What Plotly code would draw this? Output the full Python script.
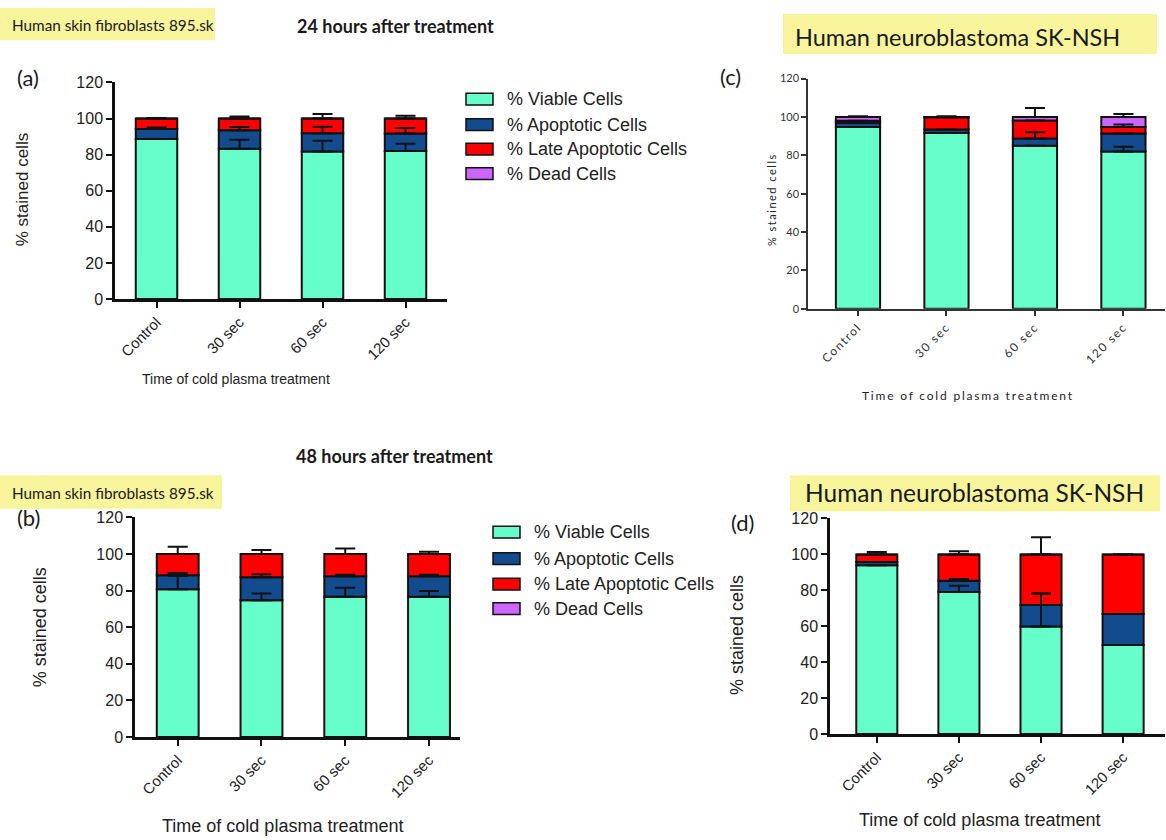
import numpy as np
import plotly.graph_objects as go

W, H = 1166, 840

categories = ["Control", "30 sec", "60 sec", "120 sec"]
series_names = ["% Viable Cells", "% Apoptotic Cells", "% Late Apoptotic Cells", "% Dead Cells"]
series_colors = ["#66FFCC", "#124C8E", "#FF0000", "#CC66FF"]

# (a) Human skin fibroblasts 895.sk, 24 h
fib24_viable = [88.6, 83.2, 81.7, 82.0]
fib24_apoptotic = [5.6, 10.3, 10.1, 9.7]
fib24_late = [5.8, 6.5, 8.2, 8.3]
fib24_dead = [0.0, 0.0, 0.0, 0.0]
fib24_err_viable = [0.0, 5.0, 6.0, 4.0]
fib24_err_apoptotic = [0.8, 1.8, 3.7, 3.1]
fib24_err_late = [0.0, 0.0, 0.0, 0.0]
fib24_err_dead = [0.3, 1.2, 2.5, 1.6]

# (c) Human neuroblastoma SK-NSH, 24 h
neu24_viable = [94.8, 91.6, 85.0, 82.0]
neu24_apoptotic = [2.2, 1.9, 3.8, 9.3]
neu24_late = [1.0, 6.3, 9.3, 3.4]
neu24_dead = [2.0, 0.2, 1.9, 5.3]
neu24_err_viable = [0.0, 0.0, 0.0, 2.5]
neu24_err_apoptotic = [0.0, 0.0, 3.2, 0.0]
neu24_err_late = [0.0, 0.0, 0.0, 1.3]
neu24_err_dead = [0.4, 0.4, 4.6, 1.5]

# (b) Human skin fibroblasts 895.sk, 48 h
fib48_viable = [80.7, 74.8, 76.6, 76.6]
fib48_apoptotic = [7.7, 12.5, 11.3, 11.3]
fib48_late = [11.6, 12.7, 12.1, 12.1]
fib48_dead = [0.0, 0.0, 0.0, 0.0]
fib48_err_viable = [7.5, 3.6, 5.0, 3.2]
fib48_err_apoptotic = [1.2, 1.7, 0.8, 0.8]
fib48_err_late = [0.0, 0.0, 0.0, 0.0]
fib48_err_dead = [4.0, 2.2, 3.0, 1.3]

# (d) Human neuroblastoma SK-NSH, 48 h
neu48_viable = [94.0, 79.1, 59.8, 49.5]
neu48_apoptotic = [1.8, 6.2, 12.0, 17.3]
neu48_late = [4.2, 14.7, 28.2, 33.2]
neu48_dead = [0.0, 0.0, 0.0, 0.0]
neu48_err_viable = [0.0, 3.5, 18.4, 0.0]
neu48_err_apoptotic = [0.0, 1.0, 6.4, 0.0]
neu48_err_late = [0.0, 0.0, 0.0, 0.0]
neu48_err_dead = [1.3, 1.8, 9.5, 0.0]

y_ticks = [0, 20, 40, 60, 80, 100, 120]


def px(x):
    return x / W


def py(y):
    return 1 - y / H


ARIAL = "Liberation Sans, Arial, sans-serif"
CALI = "Lato, Open Sans, sans-serif"

panels = [
    dict(key="a", box=(115, 447, 76, 297), xr=[-0.5, 3.5],
         segs=[fib24_viable, fib24_apoptotic, fib24_late, fib24_dead],
         errs=[fib24_err_viable, fib24_err_apoptotic, fib24_err_late, fib24_err_dead],
         style="prism"),
    dict(key="c", box=(808, 1165, 72, 307), xr=[-0.565, 3.47],
         segs=[neu24_viable, neu24_apoptotic, neu24_late, neu24_dead],
         errs=[neu24_err_viable, neu24_err_apoptotic, neu24_err_late, neu24_err_dead],
         style="light"),
    dict(key="b", box=(135, 460, 520, 744), xr=[-0.51, 3.37],
         segs=[fib48_viable, fib48_apoptotic, fib48_late, fib48_dead],
         errs=[fib48_err_viable, fib48_err_apoptotic, fib48_err_late, fib48_err_dead],
         style="prism"),
    dict(key="d", box=(830, 1165, 521, 741), xr=[-0.57, 3.51],
         segs=[neu48_viable, neu48_apoptotic, neu48_late, neu48_dead],
         errs=[neu48_err_viable, neu48_err_apoptotic, neu48_err_late, neu48_err_dead],
         style="prism"),
]

fig = go.Figure()
xs = np.arange(len(categories))

for n, p in enumerate(panels):
    sfx = "" if n == 0 else str(n + 1)
    xa, ya = "x" + sfx, "y" + sfx
    seg_arr = np.array(p["segs"], dtype=float)
    bases = np.vstack([np.zeros(len(categories)), np.cumsum(seg_arr, axis=0)[:-1]])
    light = p["style"] == "light"
    # stacked segments
    for i in range(len(series_names)):
        fig.add_trace(go.Bar(
            x=xs, y=seg_arr[i], base=bases[i], width=0.5,
            marker=dict(color=series_colors[i], line=dict(color="#111", width=2)),
            name=series_names[i], showlegend=False, xaxis=xa, yaxis=ya,
            hoverinfo="skip"))
    # error bars drawn above every segment
    for i in range(len(series_names)):
        fig.add_trace(go.Bar(
            x=xs, y=seg_arr[i], base=bases[i], width=0.5,
            marker=dict(color="rgba(0,0,0,0)", line=dict(width=0)),
            error_y=dict(type="data", symmetric=False, array=p["errs"][i],
                         arrayminus=[0] * len(categories), color="#111",
                         thickness=2, width=10),
            showlegend=False, xaxis=xa, yaxis=ya, hoverinfo="skip"))

    x0, x1, yt, yb = p["box"]
    if light:
        tickfont = dict(family=CALI, size=11, color="#333")
        ticktext = ['<span style="letter-spacing:1.5px">%s</span>' % c for c in categories]
        line_w, line_c, tlen = 1.5, "#333", 5
        xtickfont = dict(family=CALI, size=12, color="#333")
    else:
        tickfont = dict(family=ARIAL, size=16, color="#222")
        ticktext = categories
        line_w, line_c, tlen = 2.5, "#111", 6
        xtickfont = dict(family=ARIAL, size=15, color="#222")
    fig.update_layout(**{
        "xaxis" + sfx: dict(domain=[px(x0), px(x1)], range=p["xr"], anchor=ya,
                            tickmode="array", tickvals=list(xs), ticktext=ticktext,
                            tickangle=-45, tickfont=xtickfont, showline=True,
                            linecolor=line_c, linewidth=line_w, ticks="outside",
                            ticklen=tlen, tickwidth=2, tickcolor=line_c,
                            showgrid=False, zeroline=False, fixedrange=True),
        "yaxis" + sfx: dict(domain=[py(yb), py(yt)], range=[0, 120], anchor=xa,
                            tickmode="array", tickvals=y_ticks, tickfont=tickfont,
                            showline=True, linecolor=line_c, linewidth=line_w,
                            ticks="outside", ticklen=tlen, tickwidth=2, tickcolor=line_c,
                            showgrid=False, zeroline=False, fixedrange=True),
    })

annotations = []
shapes = []

# highlighted cell-line headers
headers = [
    ("Human skin fibroblasts 895.sk", (0, 215, 0, 33), 10, 17, 15.3),
    ("Human neuroblastoma SK-NSH", (783, 1157, 6, 47), 793, 30, 23.5),
    ("Human skin fibroblasts 895.sk", (0, 222, 477, 511), 10, 495, 15.3),
    ("Human neuroblastoma SK-NSH", (790, 1160, 477, 514), 803, 495, 24.5),
]
for text, (bx0, bx1, by0, by1), tx, ty, fs in headers:
    shapes.append(dict(type="rect", xref="paper", yref="paper", x0=px(bx0), x1=px(bx1),
                       y0=py(by1), y1=py(by0), fillcolor="#F8F49C", line=dict(width=0),
                       layer="below"))
    annotations.append(dict(text=text, x=px(tx), y=py(ty), xref="paper", yref="paper",
                            xanchor="left", yanchor="middle", showarrow=False,
                            font=dict(family=CALI, size=fs, color="#1a1a1a")))

# time-point headings
for text, cx, cy in [("24 hours after treatment", 395, 18), ("48 hours after treatment", 394, 457)]:
    annotations.append(dict(text="<b>%s</b>" % text, x=px(cx), y=py(cy), xref="paper",
                            yref="paper", xanchor="center", yanchor="middle", showarrow=False,
                            font=dict(family=CALI, size=18, color="#1a1a1a")))

# panel letters
for text, cx, cy in [("(a)", 28, 71), ("(c)", 730, 70), ("(b)", 28, 520), ("(d)", 743, 525)]:
    annotations.append(dict(text=text, x=px(cx), y=py(cy), xref="paper", yref="paper",
                            xanchor="center", yanchor="middle", showarrow=False,
                            font=dict(family=CALI, size=22, color="#1a1a1a")))

# axis titles
axis_titles = [
    ("% stained cells", 22, 186, -90, ARIAL, 17, ""),
    ("Time of cold plasma treatment", 236, 379, 0, ARIAL, 14, ""),
    ("% stained cells", 771, 196, -90, CALI, 11, "letter-spacing:1.5px"),
    ("Time of cold plasma treatment", 968, 395, 0, CALI, 12, "letter-spacing:1.8px"),
    ("% stained cells", 40, 632, -90, ARIAL, 18, ""),
    ("Time of cold plasma treatment", 282, 835, 0, ARIAL, 18, ""),
    ("% stained cells", 737, 640, -90, ARIAL, 18, ""),
    ("Time of cold plasma treatment", 979, 829, 0, ARIAL, 18, ""),
]
for text, cx, cy, ang, fam, fs, css in axis_titles:
    t = '<span style="%s">%s</span>' % (css, text) if css else text
    annotations.append(dict(text=t, x=px(cx), y=py(cy), xref="paper", yref="paper",
                            xanchor="center", yanchor="middle", textangle=ang,
                            showarrow=False, font=dict(family=fam, size=fs, color="#222")))

# legends
for sx0, sx1, tx, rows in [(466, 493, 505, [93, 119, 144, 169]),
                           (493, 520, 532, [535, 562, 588, 613])]:
    for name, color, ry in zip(series_names, series_colors, rows):
        shapes.append(dict(type="rect", xref="paper", yref="paper", x0=px(sx0), x1=px(sx1),
                           y0=py(ry + 6), y1=py(ry - 6), fillcolor=color,
                           line=dict(color="#111", width=1.5)))
        annotations.append(dict(text=name, x=px(tx), y=py(ry), xref="paper", yref="paper",
                                xanchor="left", yanchor="middle", showarrow=False,
                                font=dict(family=ARIAL, size=18, color="#222")))

fig.update_layout(
    width=W, height=H, autosize=False,
    margin=dict(l=0, r=0, t=0, b=0),
    paper_bgcolor="white", plot_bgcolor="white",
    barmode="overlay", showlegend=False,
    annotations=annotations, shapes=shapes,
)

fig.write_html("out.html")
